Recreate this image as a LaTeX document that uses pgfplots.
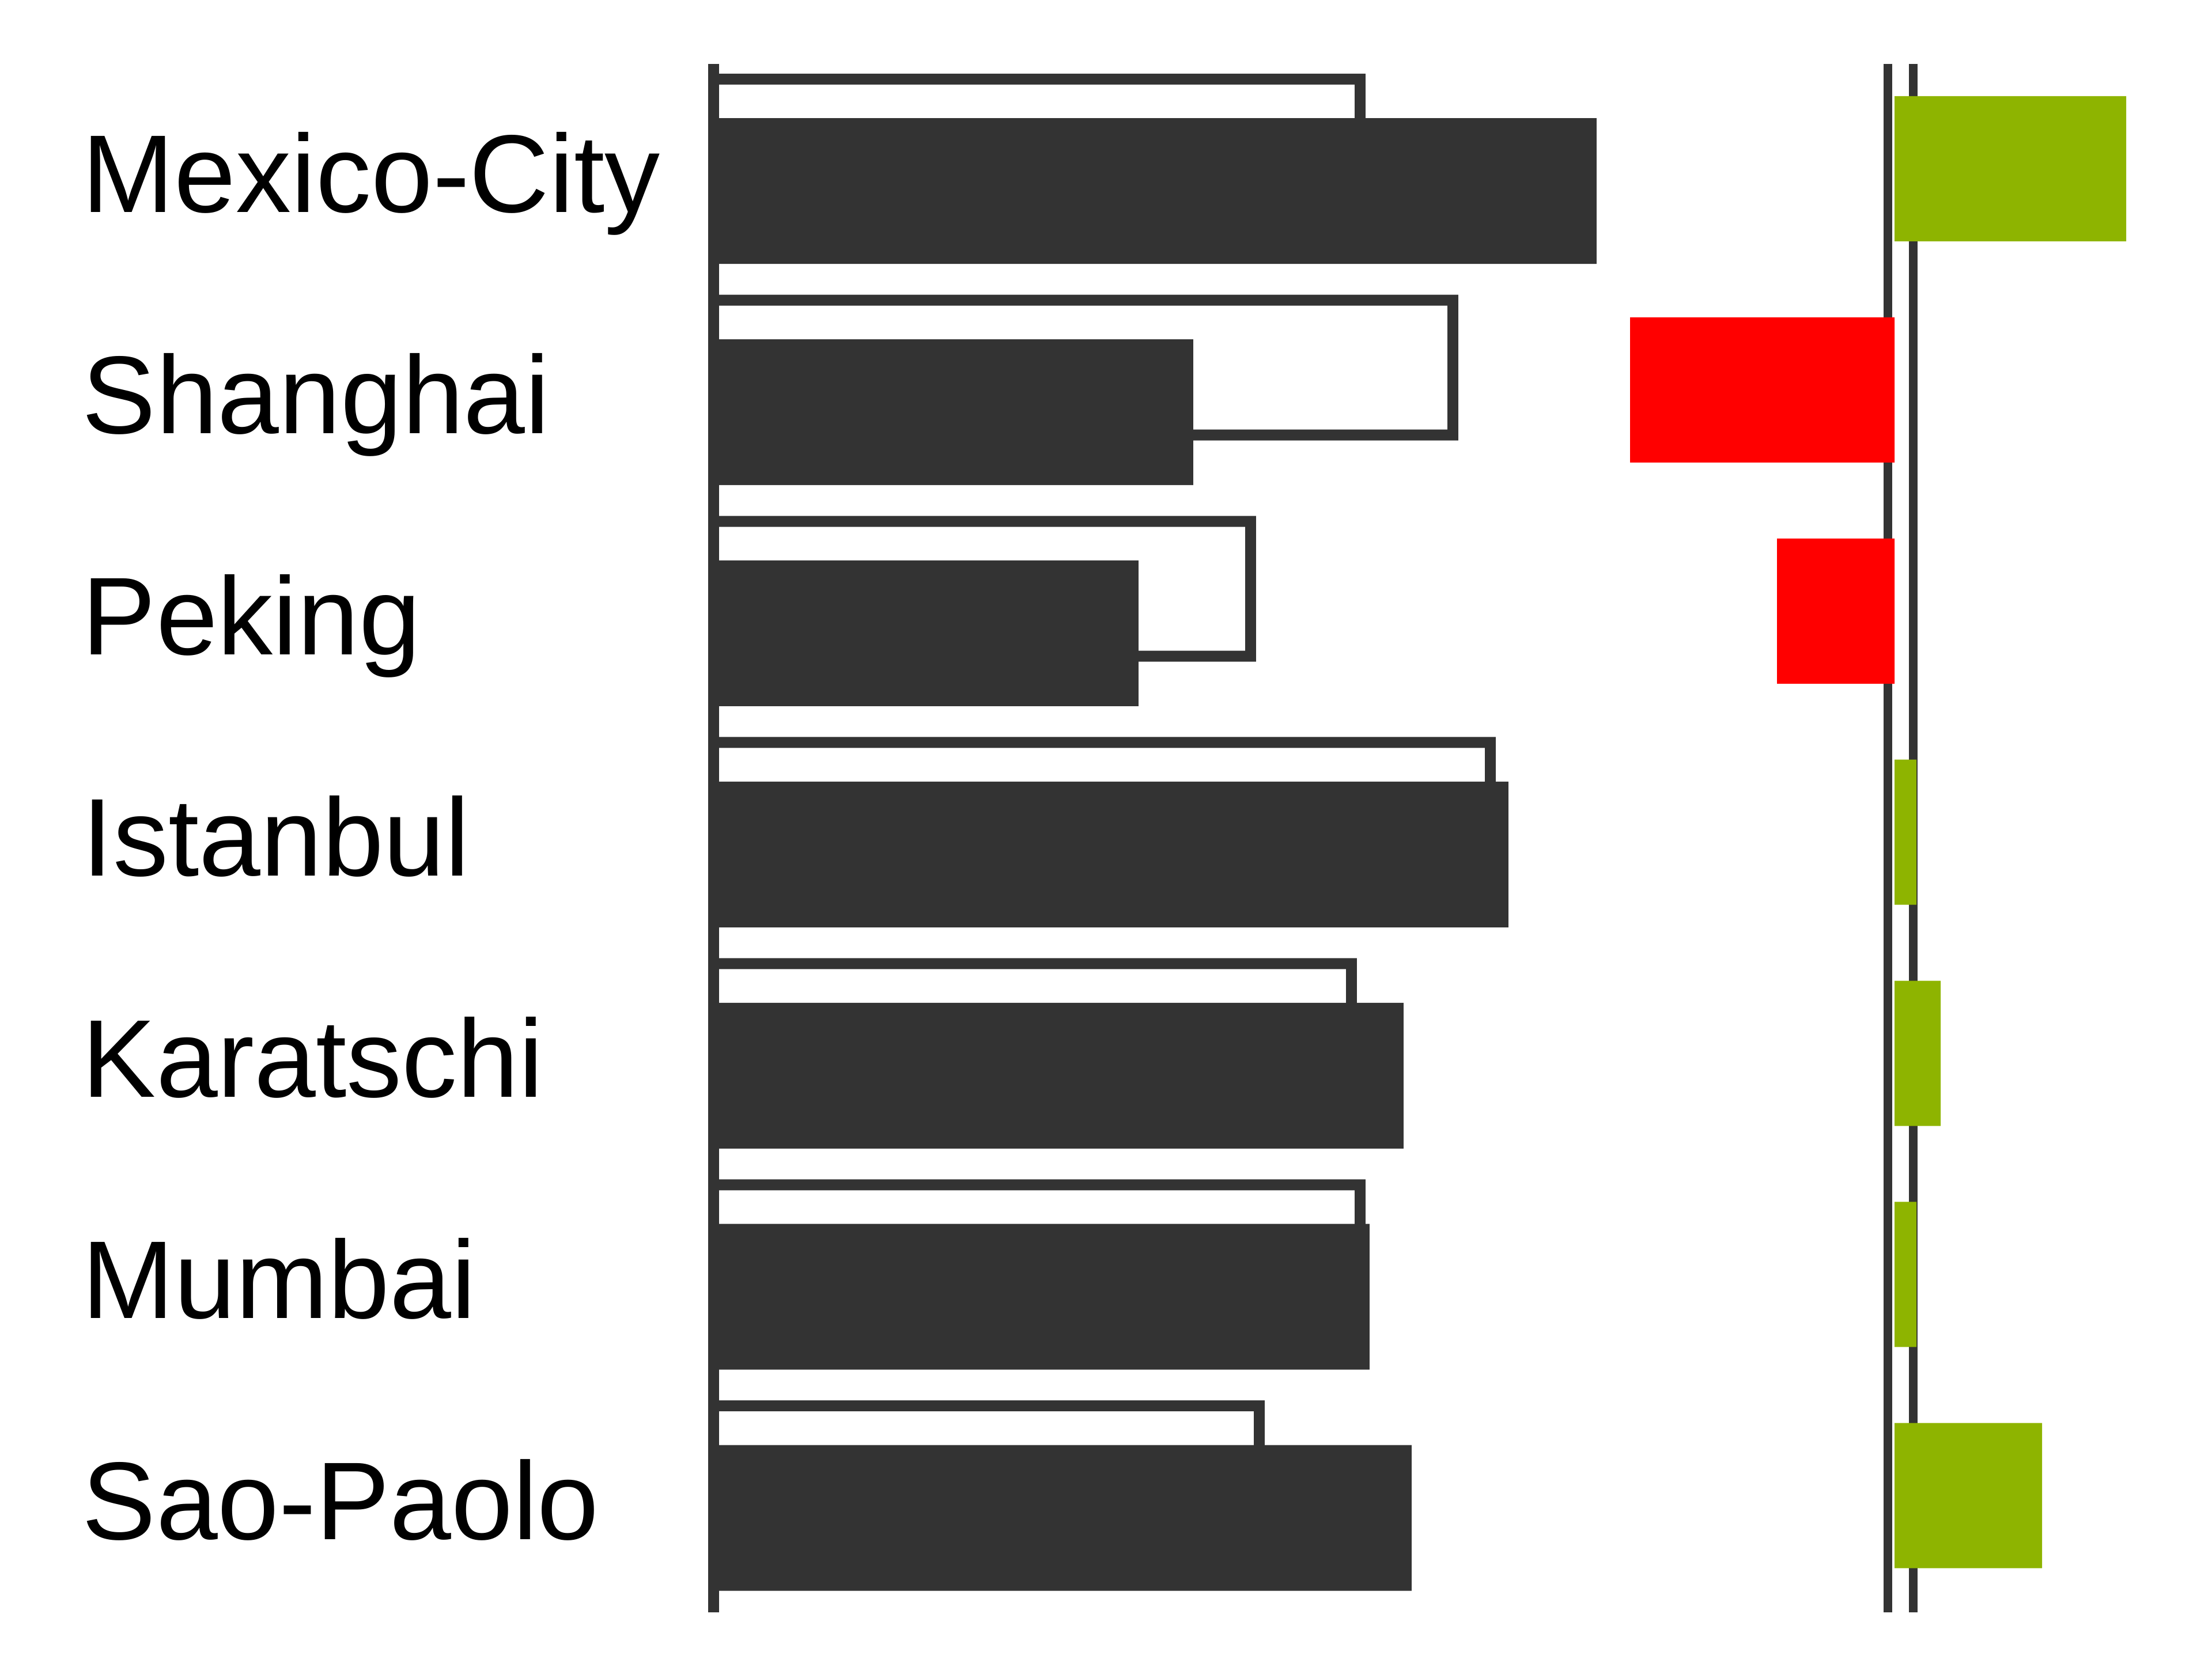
\documentclass[border=0pt]{standalone}
\usepackage{fontspec}
\setmainfont{Liberation Sans}
\usepackage{pgfplots}
\usepackage{pgfplotstable}
\pgfplotsset{compat=1.18}

\definecolor{bardark}{HTML}{333333}
\definecolor{gain}{HTML}{8EB400}
\definecolor{loss}{HTML}{FF0000}

% previous / current value and the change, per city
\pgfplotstableread{
idx city        prev  cur   delta
0   Mexico-City 113.1 153.2  40.2
1   Shanghai    129.2  83.2 -45.9
2   Peking       94.1  73.7 -20.4
3   Istanbul    135.7 137.9   3.8
4   Karatschi   111.6 119.7   8.0
5   Mumbai      113.1 113.8   3.8
6   Sao-Paolo    95.6 121.1  25.6
}\citydata

\begin{document}
\begin{tikzpicture}
\useasboundingbox (0,0) rectangle (383.9pt,288pt);
\pgfplotsset{
  common/.style={
    x=1pt, y=38.39pt, y dir=reverse,
    ymin=-0.4749, ymax=6.5277,
    scale only axis, clip=false, anchor=north west,
  },
}

% main panel: outlined previous bars and filled current bars
\begin{axis}[common,
  at={(123.9pt,276.93pt)},
  xmin=0, xmax=170,
  axis on top,
  axis x line=none, axis y line*=left,
  y axis line style={line width=1.9pt, draw=bardark, -},
  ytick={0,...,6},
  yticklabels from table={\citydata}{city},
  major tick length=0pt,
  yticklabel style={anchor=base west, inner sep=0pt,
    xshift=-109.8pt, yshift=-7.57pt,
    font=\fontsize{19.2}{23}\selectfont},
]
\addplot[xbar, bar width=25.3pt, bar shift=3.87pt, fill=bardark, draw=none]
  table[x=prev, y=idx] {\citydata};
\addplot[xbar, bar width=21.5pt, bar shift=3.87pt, fill=white, draw=none, xshift=-1.9pt]
  table[x=prev, y=idx] {\citydata};
\addplot[xbar, bar width=25.3pt, bar shift=-3.87pt, fill=bardark, draw=none]
  table[x=cur, y=idx] {\citydata};
\end{axis}

% change panel
\begin{axis}[common,
  at={(278.8pt,276.93pt)},
  xmin=-50, xmax=45,
  hide axis,
]
\addplot[line width=1.5pt, draw=bardark] coordinates {(-1.15,-0.4749) (-1.15,6.5277)};
\addplot[line width=1.5pt, draw=bardark] coordinates {(3.25,-0.4749) (3.25,6.5277)};
\addplot[xbar, bar width=25.2pt, bar shift=0pt, fill=gain, draw=none,
  restrict x to domain=0:1000]
  table[x=delta, y=idx] {\citydata};
\addplot[xbar, bar width=25.2pt, bar shift=0pt, fill=loss, draw=none,
  restrict x to domain=-1000:0]
  table[x=delta, y=idx] {\citydata};
\end{axis}
\end{tikzpicture}
\end{document}
